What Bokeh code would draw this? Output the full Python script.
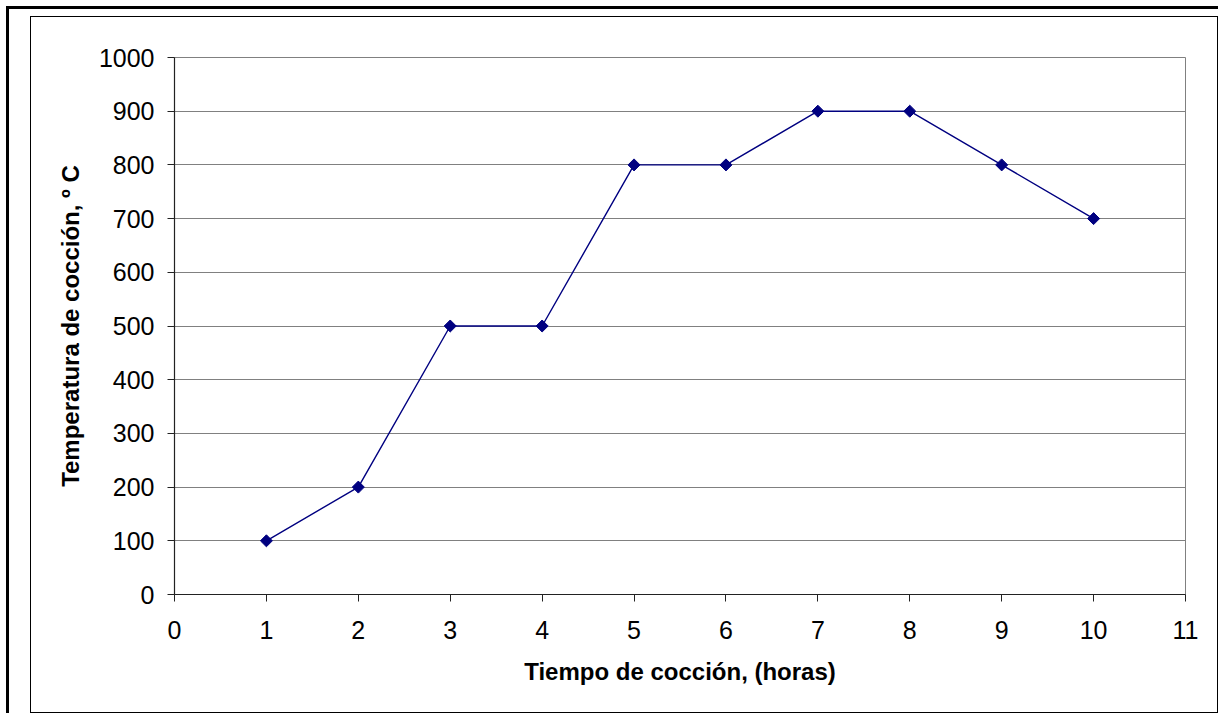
import numpy as np
from bokeh.plotting import figure
from bokeh.layouts import column
from bokeh.models import FixedTicker, Range1d
from bokeh.embed import file_html
from bokeh.resources import INLINE

# Data
horas = [1, 2, 3, 4, 5, 6, 7, 8, 9, 10]
temperatura = [100, 200, 500, 500, 800, 800, 900, 900, 800, 700]
x_ticks = [0, 1, 2, 3, 4, 5, 6, 7, 8, 9, 10, 11]
y_ticks = [0, 100, 200, 300, 400, 500, 600, 700, 800, 900, 1000]

FONT = "Liberation Sans"
NAVY = "#000080"

p = figure(width=1188, height=697, output_backend="svg", toolbar_location=None,
           x_range=Range1d(0, 11), y_range=Range1d(0, 1000),
           min_border_left=143, min_border_right=34, min_border_top=40, min_border_bottom=120,
           background_fill_color="white", border_fill_color="white",
           styles={"border": "1px solid black"})

p.outline_line_color = "#808080"
p.outline_line_width = 1

p.xgrid.grid_line_color = None
p.ygrid.grid_line_color = "#808080"
p.ygrid.grid_line_width = 1

for ax in (p.xaxis, p.yaxis):
    ax.axis_line_color = "#222222"
    ax.axis_line_width = 1.2
    ax.major_tick_line_color = "#222222"
    ax.major_tick_in = 0
    ax.major_tick_out = 7
    ax.minor_tick_line_color = None
    ax.major_label_text_font = FONT
    ax.major_label_text_font_size = "25px"
    ax.major_label_text_color = "black"
    ax.axis_label_text_font = FONT
    ax.axis_label_text_font_size = "24px"
    ax.axis_label_text_font_style = "bold"
    ax.axis_label_text_color = "black"

p.xaxis.ticker = FixedTicker(ticks=x_ticks)
p.yaxis.ticker = FixedTicker(ticks=y_ticks)
p.xaxis.axis_label = "Tiempo de cocción, (horas)"
p.yaxis.axis_label = "Temperatura de cocción, º C"
p.xaxis.major_label_standoff = 19
p.yaxis.major_label_standoff = 13
p.xaxis.axis_label_standoff = 16
p.yaxis.axis_label_standoff = 12

p.line(horas, temperatura, line_color=NAVY, line_width=1.4)
p.scatter(horas, temperatura, marker="square", angle=np.pi / 4, size=8.5,
          fill_color=NAVY, line_color=NAVY)

outer = column(p, styles={"border-left": "3px solid black", "border-top": "3px solid black",
                          "padding-left": "21px", "padding-top": "7px",
                          "margin-left": "6px", "margin-top": "6px"})

open("out.html", "w").write(file_html(outer, INLINE))
